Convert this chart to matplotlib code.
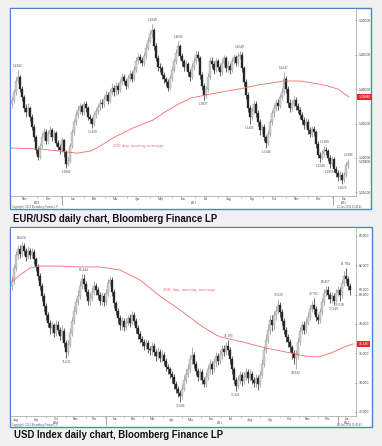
import matplotlib
matplotlib.use('Agg')
import matplotlib.pyplot as plt
from matplotlib.patches import Rectangle
import numpy as np

# ---------------- DATA ----------------
# EUR/USD (one candle ~ two trading days)
eur_open0 = 1.378
eur_close = [1.384,1.395,1.412,1.418,1.400,1.388,1.372,1.366,1.372,1.360,1.345,1.330,1.312,1.302,1.318,1.330,1.338,1.325,1.335,1.340,
             1.330,1.336,1.322,1.316,1.312,1.326,1.308,1.292,1.296,1.318,1.338,1.352,1.362,1.370,1.375,1.367,1.378,1.372,1.360,1.357,
             1.350,1.362,1.368,1.374,1.380,1.378,1.386,1.392,1.383,1.395,1.402,1.396,1.405,1.398,1.410,1.418,1.412,1.405,1.416,1.422,
             1.415,1.428,1.440,1.447,1.442,1.438,1.448,1.460,1.470,1.480,1.485,1.462,1.445,1.432,1.430,1.420,1.414,1.410,1.402,1.416,
             1.428,1.440,1.452,1.462,1.448,1.440,1.432,1.436,1.425,1.418,1.432,1.440,1.450,1.445,1.420,1.405,1.392,1.400,1.418,1.440,
             1.436,1.428,1.440,1.432,1.425,1.438,1.445,1.430,1.434,1.428,1.440,1.446,1.438,1.448,1.450,1.430,1.410,1.392,1.372,1.360,
             1.368,1.378,1.365,1.352,1.340,1.345,1.330,1.322,1.335,1.352,1.365,1.372,1.380,1.376,1.388,1.395,1.415,1.400,1.380,1.372,
             1.378,1.384,1.375,1.370,1.362,1.355,1.348,1.352,1.340,1.335,1.342,1.338,1.320,1.305,1.300,1.306,1.312,1.310,1.300,1.292,
             1.298,1.284,1.278,1.272,1.276,1.268,1.275,1.290,1.294]
eur_high = [1.390,1.400,1.418,1.428,1.421,1.404,1.392,1.378,1.380,1.376,1.364,1.350,1.334,1.316,1.322,1.336,1.344,1.342,1.340,1.346,
            1.344,1.341,1.339,1.326,1.320,1.331,1.328,1.311,1.302,1.322,1.342,1.357,1.368,1.376,1.380,1.379,1.383,1.382,1.375,1.364,
            1.360,1.366,1.373,1.379,1.385,1.386,1.391,1.398,1.396,1.400,1.408,1.406,1.410,1.409,1.415,1.423,1.422,1.415,1.421,1.427,
            1.426,1.433,1.446,1.452,1.451,1.446,1.453,1.465,1.476,1.486,1.494,1.488,1.466,1.449,1.438,1.434,1.425,1.418,1.414,1.420,
            1.433,1.445,1.458,1.4696,1.465,1.452,1.444,1.442,1.439,1.429,1.437,1.446,1.456,1.455,1.448,1.424,1.409,1.405,1.423,1.446,
            1.447,1.440,1.445,1.444,1.436,1.443,1.450,1.448,1.440,1.438,1.445,1.451,1.450,1.453,1.455,1.453,1.434,1.414,1.396,1.377,
            1.374,1.384,1.382,1.369,1.356,1.350,1.349,1.334,1.340,1.357,1.370,1.378,1.386,1.385,1.393,1.401,1.4247,1.419,1.404,1.385,
            1.384,1.390,1.388,1.380,1.374,1.366,1.359,1.358,1.356,1.345,1.347,1.346,1.341,1.324,1.309,1.311,1.318,1.316,1.313,1.304,
            1.303,1.301,1.289,1.282,1.281,1.279,1.280,1.294,1.2986]
eur_low = [1.372,1.380,1.392,1.408,1.396,1.382,1.366,1.360,1.362,1.354,1.340,1.325,1.306,1.297,1.299,1.314,1.326,1.320,1.321,1.330,
           1.325,1.326,1.318,1.311,1.306,1.309,1.302,1.286,1.288,1.293,1.315,1.334,1.348,1.358,1.364,1.362,1.363,1.367,1.355,1.351,
           1.343,1.347,1.358,1.364,1.370,1.373,1.374,1.382,1.378,1.380,1.391,1.390,1.392,1.393,1.395,1.406,1.407,1.400,1.401,1.412,
           1.410,1.412,1.424,1.436,1.437,1.433,1.434,1.444,1.456,1.466,1.476,1.457,1.440,1.426,1.424,1.414,1.408,1.404,1.397,1.399,
           1.412,1.424,1.436,1.448,1.443,1.434,1.426,1.427,1.419,1.412,1.415,1.428,1.436,1.440,1.415,1.399,1.384,1.387,1.396,1.414,
           1.430,1.422,1.424,1.427,1.419,1.421,1.434,1.425,1.425,1.422,1.424,1.436,1.433,1.434,1.443,1.425,1.404,1.386,1.366,1.3495,
           1.355,1.364,1.360,1.347,1.334,1.335,1.324,1.3146,1.318,1.331,1.348,1.360,1.368,1.370,1.372,1.384,1.391,1.394,1.374,1.366,
           1.368,1.374,1.370,1.365,1.356,1.350,1.342,1.344,1.335,1.330,1.331,1.332,1.315,1.300,1.2946,1.297,1.302,1.304,1.295,1.2858,
           1.288,1.279,1.273,1.267,1.268,1.2625,1.265,1.272,1.286]
eur_ma_pos = [-0.5,14,24,32.5,39,42.5,50.5,60.5,70.5,76.5,82.5,89.5,99.5,116,123,136,144.5,156,163,168.5]
eur_ma_val = [1.3145,1.313,1.310,1.307,1.310,1.3145,1.329,1.3435,1.355,1.3667,1.377,1.387,1.3928,1.4014,1.4058,1.4116,1.4116,1.4058,1.400,1.3884]
eur_ticks = [1.25, 1.30, 1.35, 1.40, 1.45, 1.50]
eur_notes = ["1.4282","1.2860","1.3430","1.4940","1.4696","1.3837","1.4549","1.3495","1.3146","1.4247","1.2946","1.3180","1.2858","1.2625","1.2986"]
eur_note_idx = [3,27,40,70,83,96,114,119,127,136,154,156,159,165,168]
eur_note_up = [1,0,0,1,1,0,1,0,0,1,0,1,0,0,1]
eur_months = ["Nov","Dec","Jan","Feb","Mar","Apr","May","Jun","Jul","Aug","Sep","Oct","Nov","Dec","Jan"]
eur_month_pos = [6.5,18.5,30.5,41,52,63,74.5,85.5,97,108.5,120,131,142.5,153.5,166]
eur_years = ["2010","2011","2012"]
eur_year_pos = [12.5,91,166]
eur_year_breaks = [25,160.5]

# USD Index
dxy_open0 = 80.6
dxy_close = [80.9,81.8,82.7,83.1,82.8,83.3,83.0,82.6,83.0,82.7,82.9,82.4,81.9,81.3,80.6,79.9,79.2,78.6,78.1,77.7,
             77.9,77.4,77.9,77.6,77.2,77.5,76.7,76.1,76.6,77.4,78.2,78.9,79.5,79.9,80.6,81.1,80.7,80.2,79.6,79.8,
             80.2,80.6,80.3,80.0,79.6,79.9,79.5,80.1,80.8,81.0,80.2,79.4,78.9,78.4,77.9,78.2,77.8,78.1,78.4,78.1,
             78.6,78.2,77.7,77.3,77.0,76.8,76.5,76.7,76.3,76.2,76.5,76.1,75.8,76.1,75.7,75.9,75.5,75.1,74.9,74.6,
             74.4,73.9,73.6,73.3,73.1,73.6,74.2,74.6,74.9,75.6,75.9,75.3,74.8,74.4,74.7,74.2,73.9,74.4,74.9,75.3,
             74.9,75.4,75.8,75.5,75.9,76.3,76.1,76.5,76.2,75.6,74.9,74.2,73.8,74.2,74.5,74.1,74.4,74.7,74.3,74.6,
             74.2,74.0,74.3,73.9,74.5,75.3,76.2,76.9,77.6,78.3,77.9,78.6,78.9,79.3,78.8,78.2,77.6,77.1,76.8,76.4,
             76.0,75.7,75.9,76.8,77.5,77.9,77.6,78.1,78.5,79.0,79.3,79.0,78.5,78.3,78.8,79.5,80.1,80.3,80.0,79.7,
             79.9,79.6,80.1,80.3,80.0,80.8,81.3,81.1,80.6,80.3]
dxy_high = [81.3,82.1,83.0,83.4,83.4,83.6,83.5,83.2,83.3,83.2,83.2,83.1,82.6,82.1,81.5,80.8,80.1,79.4,78.8,78.3,
            78.2,78.1,78.3,78.2,77.8,77.9,77.7,76.9,76.9,77.7,78.5,79.2,79.8,80.3,80.9,81.4,81.44,80.9,80.4,80.1,
            80.5,80.9,80.8,80.5,80.2,80.2,80.1,80.4,81.1,81.3,81.2,80.4,79.6,79.1,78.6,78.5,78.4,78.4,78.6,78.7,
            78.9,78.8,78.4,77.9,77.5,77.2,77.0,77.0,76.9,76.5,76.8,76.7,76.3,76.4,76.3,76.2,76.1,75.7,75.3,75.1,
            74.8,74.6,74.1,73.8,73.5,73.9,74.5,74.9,75.3,75.9,76.4,76.1,75.5,75.0,75.0,74.9,74.4,74.7,75.2,75.6,
            75.5,75.7,76.1,76.0,76.2,76.6,76.6,76.8,76.9,76.4,75.8,75.1,74.4,74.5,74.8,74.7,74.7,75.0,74.9,74.9,
            74.8,74.4,74.6,74.5,74.8,75.6,76.5,77.3,78.0,78.6,78.6,78.9,79.2,79.7,79.5,79.0,78.4,77.8,77.3,77.0,
            76.6,76.2,76.2,77.1,77.8,78.2,78.2,78.4,78.8,79.3,79.6,79.8,79.2,78.7,79.1,79.8,80.4,80.6,80.6,80.2,
            80.2,80.1,80.4,80.6,80.5,81.1,81.6,81.8,81.3,80.8]
dxy_low = [80.3,80.7,81.6,82.4,82.5,82.6,82.7,82.3,82.4,82.4,82.5,82.1,81.6,81.0,80.3,79.6,78.9,78.3,77.8,77.3,
           77.4,77.1,77.2,77.3,76.9,76.9,76.4,75.7,75.8,76.4,77.2,78.0,78.7,79.3,79.7,80.4,80.4,79.9,79.3,79.3,
           79.6,80.0,80.0,79.7,79.3,79.3,79.2,79.3,79.9,80.6,79.9,79.1,78.6,78.1,77.6,77.6,77.5,77.6,77.9,77.8,
           77.9,77.9,77.4,77.0,76.7,76.5,76.2,76.3,76.0,75.9,75.9,75.8,75.5,75.6,75.4,75.4,75.2,74.8,74.6,74.3,
           74.0,73.6,73.3,73.0,72.7,72.9,73.4,74.0,74.4,74.7,75.3,75.0,74.5,74.1,74.2,73.9,73.7,73.7,74.2,74.6,
           74.6,74.7,75.1,75.2,75.3,75.6,75.8,75.9,75.9,75.3,74.6,73.9,73.42,73.6,73.9,73.8,73.9,74.2,74.0,74.1,
           73.9,73.7,73.7,73.5,73.7,74.3,75.1,76.0,76.7,77.3,77.5,77.6,78.3,78.7,78.5,77.9,77.3,76.8,76.4,76.1,
           75.6,75.3,74.9,75.6,76.6,77.3,77.3,77.4,77.9,78.3,78.8,78.7,78.2,78.0,78.1,78.6,79.3,79.9,79.7,79.4,
           79.4,79.3,79.5,79.9,79.6,79.8,80.6,80.8,80.3,80.0]
dxy_ma_pos = [-0.5,4,9,14,24,34,44,54,64,74,84,89.5,94,102,104.5,115.5,127,139.5,146,153,159.5,166,170.5]
dxy_ma_val = [80.86,81.34,81.82,81.95,81.95,81.89,81.89,81.68,81.0,79.9,78.96,78.41,77.93,77.25,77.11,76.77,76.36,76.02,75.82,75.75,76.02,76.43,76.64]
dxy_ticks = [72, 74, 76, 78, 80, 82, 84]
dxy_notes = ["83.624","75.632","81.444","72.696","76.193","73.421","79.639","74.943","79.792","80.457","79.249","79.538","81.784"]
dxy_note_idx = [5,27,36,84,108,112,133,142,151,157,161,164,167]
dxy_note_up = [1,0,1,0,1,0,1,0,1,1,0,0,1]
dxy_months = ["Aug","Sep","Oct","Nov","Dec","Jan","Feb","Mar","Apr","May","Jun","Jul","Aug","Sep","Oct","Nov","Dec","Jan"]
dxy_month_pos = [2,12,22,32,41.5,51.5,60.5,70.5,80,89.5,99.5,109.5,119,129,138.5,148,158,167.5]
dxy_years = ["2010","2011","2012"]
dxy_year_pos = [22,104,167.5]
dxy_year_breaks = [47,163]

# ---------------- DRAWING ----------------
W, H = 382, 446
fig = plt.figure(figsize=(W/100, H/100), dpi=100)
fig.patch.set_facecolor('#f1f1f1')

def fbox(x0, y0, x1, y1):
    return [x0/W, 1-y1/H, (x1-x0)/W, (y1-y0)/H]

def panel(x0, y0, x1, y1):
    fig.add_artist(Rectangle((x0/W, 1-y1/H), (x1-x0)/W, (y1-y0)/H, transform=fig.transFigure,
                             facecolor='white', edgecolor='#4a86c8', lw=1.0, zorder=0))

TXT = '#333333'
NOTE = '#3a3a5a'
MA = '#f26a6a'

def chart(box, opn0, closes, highs, lows, ma_pos, ma_val, ticks, fmt, ylim,
          notes, note_idx, note_up, months, month_pos, years, year_pos, breaks,
          ma_label_pos, ma_label_font, last_fmt):
    ax = fig.add_axes(fbox(*box))
    ax.set_facecolor('white')
    c = np.asarray(closes); h = np.asarray(highs); l = np.asarray(lows)
    o = np.concatenate([[opn0], c[:-1]])
    x = np.arange(len(c))
    up = c >= o
    edge = np.where(up, '#8e8e8e', '#262626')
    face = np.where(up, '#cfcfcf', '#262626')
    ax.vlines(x, l, h, colors=edge, lw=0.5, zorder=2)
    span = ylim[1] - ylim[0]
    body = np.maximum(np.abs(c - o), span * 0.004)
    ax.bar(x, body, bottom=np.minimum(o, c), width=0.85, color=face, edgecolor=edge, lw=0.25, zorder=3)
    ax.plot(ma_pos, ma_val, color=MA, lw=0.6, zorder=4)
    ax.set_xlim(-0.5, 172)
    ax.set_ylim(*ylim)
    for s in ['left', 'top']:
        ax.spines[s].set_visible(False)
    for s in ['right', 'bottom']:
        ax.spines[s].set_color('#a0a0a0')
        ax.spines[s].set_linewidth(0.5)
    ax.yaxis.tick_right()
    ax.set_yticks(ticks)
    ax.set_yticklabels([fmt.format(t) for t in ticks])
    ax.tick_params(axis='y', labelsize=2.4, length=2, width=0.4, direction='inout', colors='#777777',
                   labelcolor=TXT, pad=0.8)
    for lab in ax.get_yticklabels():
        lab.set_fontfamily('Liberation Sans')
    bounds = [(month_pos[i] + month_pos[i+1]) / 2 for i in range(len(month_pos) - 1)]
    ax.set_xticks(bounds)
    ax.set_xticklabels([])
    ax.tick_params(axis='x', length=1.5, width=0.4, direction='out', colors='#999999')
    for m, p in zip(months, month_pos):
        ax.annotate(m, xy=(p, 0), xycoords=('data', 'axes fraction'), xytext=(0, -3.5),
                    textcoords='offset pixels', ha='center', va='center', fontsize=2.4,
                    family='Liberation Serif', color=TXT, annotation_clip=False)
    for yv, p in zip(years, year_pos):
        ax.annotate(yv, xy=(p, 0), xycoords=('data', 'axes fraction'), xytext=(0, -6.8),
                    textcoords='offset pixels', ha='center', va='center', fontsize=2.2,
                    family='Liberation Serif', color=TXT, annotation_clip=False)
    for b in breaks:
        ax.plot([b, b], [0, -0.05], transform=ax.get_xaxis_transform(), clip_on=False,
                color='#888888', lw=0.5)
    for t, i, u in zip(notes, note_idx, note_up):
        yv = h[i] if u else l[i]
        ax.annotate(t, xy=(i, yv), xytext=(0, 2 if u else -2), textcoords='offset pixels',
                    ha='center', va='bottom' if u else 'top', fontsize=2.4,
                    family='Liberation Serif', color=NOTE, zorder=5)
    # last close label on right axis
    ax.annotate(last_fmt.format(c[-1]), xy=(1, c[-1]), xycoords=('axes fraction', 'data'),
                xytext=(2.5, 0), textcoords='offset pixels', ha='left', va='center',
                fontsize=2.4, family='Liberation Sans', color=TXT, annotation_clip=False)
    # red MA marker
    ax.annotate(last_fmt.format(ma_val[-1]), xy=(1, ma_val[-1]), xycoords=('axes fraction', 'data'),
                xytext=(2.5, 0), textcoords='offset pixels', ha='left', va='center',
                fontsize=2.4, family='Liberation Sans', color='white', annotation_clip=False,
                bbox=dict(boxstyle='square,pad=0.35', fc='#e8262b', ec='none'))
    lx, ly = ma_label_pos
    ax.text(lx, ly, "200 day moving average", color=MA, fontsize=2.9, family=ma_label_font,
            ha='left', va='center')
    return ax

def footer(y):
    fig.text(12/W, 1-y/H, "Copyright\u00a9 2012 Bloomberg Finance L.P.", fontsize=1.8, color='#555555',
             va='center', ha='left', family='Liberation Sans')
    fig.text(362/W, 1-y/H, "12-Jan-2012 15:45:43", fontsize=1.8, color='#555555',
             va='center', ha='right', family='Liberation Sans')

# top panel
panel(10, 8, 371, 209)
chart((11, 9, 356, 196), eur_open0, eur_close, eur_high, eur_low, eur_ma_pos, eur_ma_val,
      eur_ticks, "{:.5f}", (1.2449, 1.516), eur_notes, eur_note_idx, eur_note_up,
      eur_months, eur_month_pos, eur_years, eur_year_pos, eur_year_breaks,
      (50.5, 1.3174), 'DejaVu Sans', "{:.5f}")
footer(207)
fig.text(13/W, 1-218.5/H, "EUR/USD daily chart, Bloomberg Finance LP", fontsize=6.9,
         fontweight='bold', family='Liberation Sans', va='center', ha='left', color='#111111')

# bottom panel
panel(10, 227, 372, 427)
chart((11, 228, 356, 416), dxy_open0, dxy_close, dxy_high, dxy_low, dxy_ma_pos, dxy_ma_val,
      dxy_ticks, "{:.3f}", (71.727, 84.545), dxy_notes, dxy_note_idx, dxy_note_up,
      dxy_months, dxy_month_pos, dxy_years, dxy_year_pos, dxy_year_breaks,
      (75.5, 80.32), 'DejaVu Sans Mono', "{:.3f}")
footer(425.3)
fig.text(14/W, 1-434.5/H, "USD Index daily chart, Bloomberg Finance LP", fontsize=6.9,
         fontweight='bold', family='Liberation Sans', va='center', ha='left', color='#111111')

fig.savefig('out.png', dpi=100, facecolor=fig.get_facecolor())
